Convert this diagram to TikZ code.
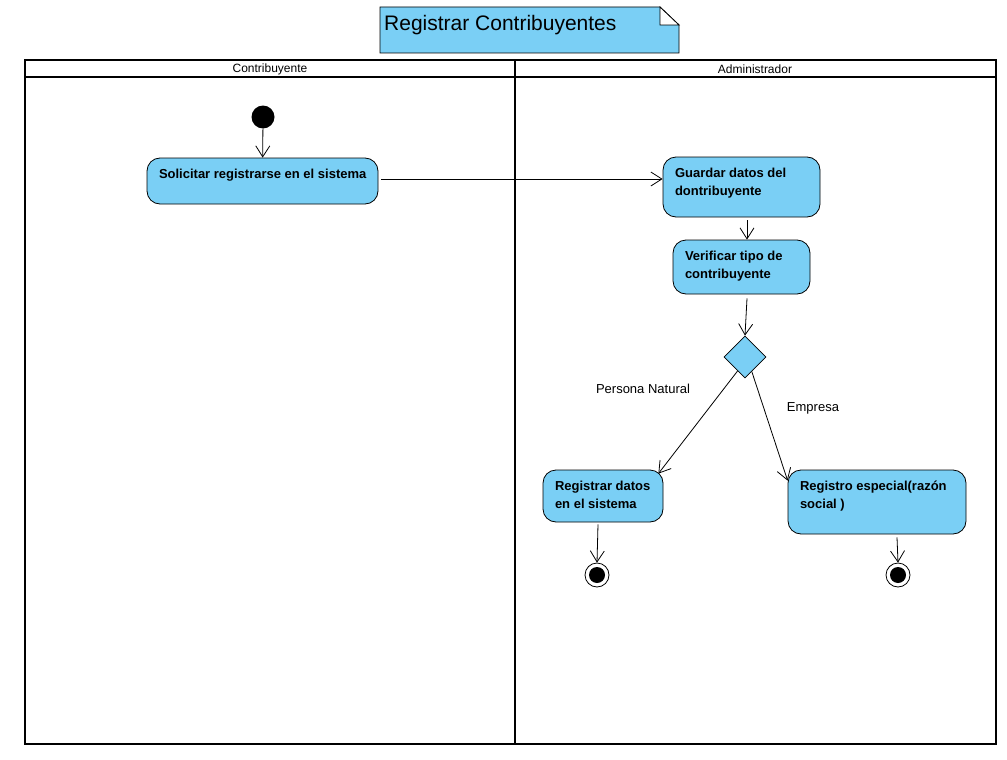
\documentclass[tikz,border=0pt]{standalone}
\usepackage{fontspec}
\setmainfont{Liberation Sans}
\usetikzlibrary{arrows.meta,shapes.geometric}
\definecolor{actblue}{RGB}{122,207,245}
% box text: top-left aligned inside a fixed height
\newcommand{\acttext}[3]{\hspace*{12pt}\parbox[c][#2][t]{#1}{\raggedright\rule{0pt}{20.5pt}#3}}

\begin{document}
\begin{tikzpicture}[x=1pt, y=-1pt,
	act/.style={draw, fill=actblue, rounded corners=13pt, inner sep=0pt, line width=0.8pt, font=\bfseries\fontsize{13}{18}\selectfont},
	flow/.style={-{Straight Barb[length=11pt,width=14pt]}, line width=0.8pt},
	lane/.style={line width=2.8pt},
	lanename/.style={font=\fontsize{12}{14}\selectfont},
	guard/.style={font=\fontsize{13}{15}\selectfont},
	start/.style={circle, fill=black, minimum size=23pt, inner sep=0pt},
	final/.style={circle, draw, fill=white, line width=0.8pt, minimum size=24pt, inner sep=0pt,
		path picture={\fill[black] (path picture bounding box.center) circle (8pt);}},
	decision/.style={diamond, draw, fill=actblue, line width=0.8pt, minimum size=42pt, inner sep=0pt}]
	%\draw[help lines] (0,0) grid (1007,760);
	\fill[white] (0,0) rectangle (1007,760);
	\useasboundingbox (0,0) rectangle (1007,760);
	
	% title note
	\draw[fill=actblue, line width=0.8pt] (380,7) -- (660,7) -- (679,25) -- (679,53) -- (380,53) -- cycle;
	\draw[fill=white, line width=0.8pt] (660,7) -- (679,25) -- (660,25) -- cycle;
	\node[anchor=base west, inner sep=0pt, font=\fontsize{21}{24}\selectfont] (titulo) at (384,31) {Registrar Contribuyentes};
	
	% swimlanes
	\draw[lane] (25,60) rectangle (996,744);
	\draw[lane] (25,77) -- (996,77);
	\draw[lane] (515,60) -- (515,744);
	\node[lanename] (contrib) at (270,69.5) {Contribuyente};
	\node[lanename] (admin) at (755,69.5) {Administrador};
	
	\node[start] (inicio) at (263,117) {};
	\node[act] (solicitar) at (262.5,181) {\acttext{219pt}{46pt}{Solicitar registrarse en el sistema}};
	\node[act] (guardar) at (741.5,187) {\acttext{145pt}{60pt}{Guardar datos del\\dontribuyente}};
	\node[act] (verificar) at (741.5,267) {\acttext{125pt}{54pt}{Verificar tipo de\\contribuyente}};
	\node[decision] (tipo) at (745,357) {};
	\node[act] (registrar) at (603,496) {\acttext{108pt}{52pt}{Registrar datos\\en el sistema}};
	\node[act] (especial) at (877,502) {\acttext{166pt}{64pt}{Registro especial(razón\\social )}};
	\node[final] (fin1) at (597,575) {};
	\node[final] (fin2) at (898,575) {};
	
	\node[guard] (natural) at (643,389) {Persona Natural};
	\node[guard] (empresa) at (813,408) {Empresa};
	
	\draw[flow] (inicio) -- (solicitar);
	\draw[flow] ([xshift=3pt,yshift=2pt]solicitar.east) -- ([yshift=2pt]solicitar.east -| guardar.west);
	\draw[flow] ([xshift=5.5pt,yshift=-3pt]guardar.south) -- ([xshift=5.5pt]guardar.south |- verificar.north);
	\draw[flow] ([xshift=5.5pt,yshift=-4pt]verificar.south) -- (tipo.north);
	\draw[flow] (tipo.242) -- ([xshift=-5pt,yshift=-4pt]registrar.north east);
	\draw[flow] (tipo.295) -- ([yshift=-11pt]especial.north west);
	\draw[flow] ([xshift=-5pt,yshift=-2pt]registrar.south) -- (fin1.north);
	\draw[flow] ([xshift=20pt,yshift=-3pt]especial.south) -- (fin2.north);
\end{tikzpicture}
\end{document}
